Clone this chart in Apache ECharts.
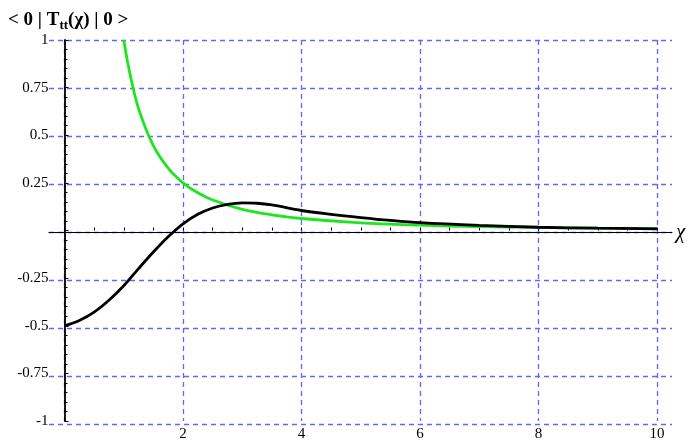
<!DOCTYPE html>
<html>
<head>
<meta charset="utf-8">
<script src="https://cdn.jsdelivr.net/npm/echarts@6/dist/echarts.min.js"></script>
<style>
  html, body { margin: 0; padding: 0; background: #fff; }
  #chart { width: 692px; height: 442px; }
</style>
</head>
<body>
<div id="chart"></div>
<script>
// values
const blackX = [0, 0.25, 0.5, 0.75, 1, 1.25, 1.5, 1.75, 2, 2.25, 2.5, 2.75, 3, 3.25, 3.5, 4, 4.5, 5, 5.5, 6, 7, 8, 9, 10]
const blackY = [-0.5, -0.472, -0.428, -0.366, -0.29, -0.2, -0.113, -0.033, 0.035, 0.085, 0.118, 0.137, 0.145, 0.143, 0.134, 0.105, 0.085, 0.068, 0.053, 0.041, 0.027, 0.017, 0.012, 0.009]
const greenX = [1, 1.1, 1.25, 1.5, 1.75, 2, 2.25, 2.5, 3, 3.5, 4, 5, 6, 7, 8, 9, 10]
const greenY = [1, 0.83, 0.64, 0.445, 0.327, 0.25, 0.198, 0.16, 0.111, 0.082, 0.063, 0.04, 0.028, 0.02, 0.016, 0.012, 0.01]
const yTicks = [-1, -0.75, -0.5, -0.25, 0, 0.25, 0.5, 0.75, 1]
const xTicks = [0, 2, 4, 6, 8, 10]

const serif = 'Liberation Serif'
const gridBlue = '#6464ff'

const pair = (xs, ys) => xs.map((x, i) => [x, ys[i]])

const chart = echarts.init(document.getElementById('chart'))
chart.setOption({
    animation: false,
    title: {
        left: 3,
        top: 3,
        text: '{b|< 0 | T}{s|tt}{n|(χ)}{b| | 0 >}',
        textStyle: {
            rich: {
                b: { fontFamily: serif, fontWeight: 'bold', fontSize: 19, color: '#000' },
                s: { fontFamily: serif, fontWeight: 'bold', fontSize: 13, color: '#000', padding: [11, 0, 0, 0] },
                n: { fontFamily: serif, fontSize: 19, color: '#000' }
            }
        }
    },
    grid: [
        // wide background grid: horizontal dashed lines + zero line
        { left: 49, right: 20, top: 40, bottom: 18 },
        // data grid
        { left: 64.5, right: 35, top: 40, bottom: 18 }
    ],
    xAxis: [
        {
            gridIndex: 0,
            type: 'value',
            min: 0,
            max: 1,
            axisLine: { show: true, onZero: true, lineStyle: { color: '#000', width: 1.2 } },
            axisTick: { show: false },
            axisLabel: { show: false },
            splitLine: { show: false },
            name: 'χ',
            nameLocation: 'end',
            nameGap: 4,
            nameTextStyle: { fontFamily: serif, fontStyle: 'italic', fontSize: 21, color: '#000', verticalAlign: 'middle' }
        },
        {
            gridIndex: 1,
            type: 'value',
            position: 'bottom',
            min: xTicks[0],
            max: xTicks[xTicks.length - 1],
            interval: 2,
            axisLine: { show: false, onZero: false },
            axisTick: { show: false },
            axisLabel: {
                margin: 6,
                fontFamily: serif,
                fontSize: 15,
                color: '#000',
                formatter: v => (v === 0 ? '' : String(v))
            },
            splitLine: { show: true, lineStyle: { color: gridBlue, width: 1.3, type: [5, 4] } }
        },
        {
            gridIndex: 1,
            type: 'value',
            position: 'top',
            min: 0,
            max: 10,
            interval: 0.5,
            axisLine: { show: false, onZero: true },
            axisTick: { show: true, inside: false, length: 3, lineStyle: { color: '#000', width: 1 } },
            axisLabel: { show: false },
            splitLine: { show: false }
        }
    ],
    yAxis: [
        {
            gridIndex: 0,
            type: 'value',
            min: -1,
            max: 1,
            interval: 0.25,
            axisLine: { show: false },
            axisTick: { show: false },
            axisLabel: { show: false },
            splitLine: { show: true, lineStyle: { color: gridBlue, width: 1.3, type: [5, 4] } }
        },
        {
            gridIndex: 1,
            type: 'value',
            min: yTicks[0],
            max: yTicks[yTicks.length - 1],
            interval: 0.25,
            axisLine: { show: true, onZero: false, lineStyle: { color: '#000', width: 1.8 } },
            axisTick: { show: true, inside: true, length: 4, lineStyle: { color: '#000', width: 1 } },
            minorTick: { show: true, splitNumber: 5, length: 3, lineStyle: { color: '#000', width: 1 } },
            axisLabel: {
                margin: 16,
                fontFamily: serif,
                fontSize: 15,
                color: '#000',
                formatter: v => (v === 0 ? '' : String(v))
            },
            splitLine: { show: false }
        }
    ],
    series: [
        {
            type: 'line',
            xAxisIndex: 1,
            yAxisIndex: 1,
            data: pair(greenX, greenY),
            smooth: 0.35,
            showSymbol: false,
            lineStyle: { color: '#1ee61e', width: 2.8 }
        },
        {
            type: 'line',
            xAxisIndex: 1,
            yAxisIndex: 1,
            data: pair(blackX, blackY),
            smooth: 0.35,
            showSymbol: false,
            lineStyle: { color: '#000', width: 2.8 }
        }
    ]
})
</script>
</body>
</html>
